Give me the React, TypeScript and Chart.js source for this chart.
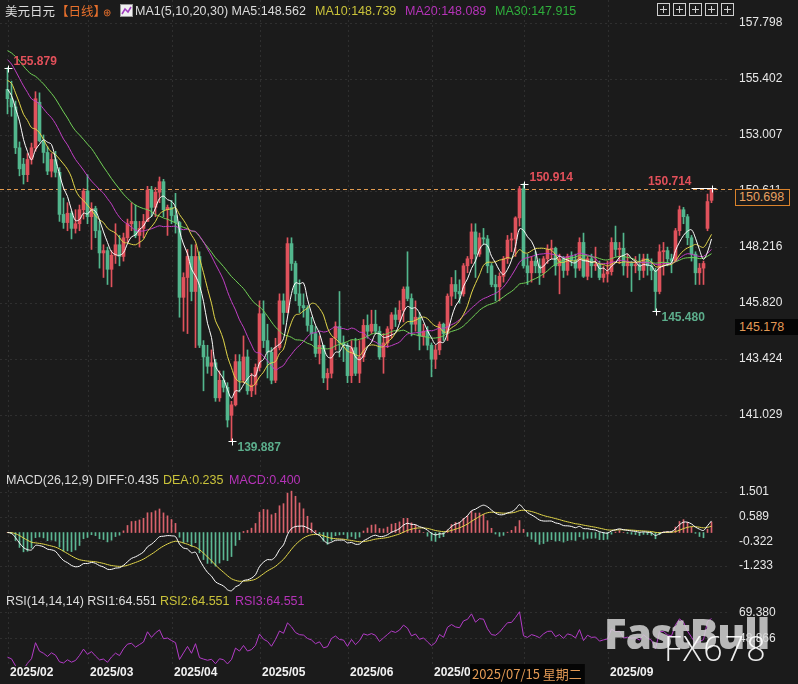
import React, { useEffect, useRef } from 'react';
import { Chart, registerables } from 'chart.js';
Chart.register(...registerables);

// ---------------- data ----------------
const openP = [
  154.95,154.55,154.20,152.45,151.75,151.30,151.95,152.45,154.40,152.75,
  152.25,151.45,151.95,151.40,149.60,149.25,149.65,149.00,149.20,149.80,
  150.60,149.50,149.85,148.90,147.95,148.05,147.25,147.85,148.30,147.80,
  148.60,149.20,149.30,148.70,149.00,149.30,150.65,149.90,150.55,151.00,
  149.80,149.90,149.55,149.25,146.05,146.90,147.80,146.30,147.80,144.00,
  143.50,143.10,143.25,141.75,142.50,142.20,141.00,141.45,143.30,142.50,
  143.50,142.05,142.30,143.05,145.35,144.20,143.70,142.50,143.90,145.90,
  145.40,148.35,147.50,146.20,145.70,145.60,144.85,144.50,143.65,144.00,
  142.60,142.80,144.30,144.80,144.10,144.00,142.70,143.90,142.80,143.50,
  144.85,144.60,144.90,144.60,143.50,144.10,144.70,145.30,145.10,145.50,
  146.50,146.00,144.90,145.20,144.40,144.60,144.00,143.40,143.80,144.90,
  144.50,146.10,146.60,146.30,146.20,147.40,147.70,148.85,147.90,148.60,
  148.55,147.40,146.60,146.50,146.95,147.70,148.50,148.55,149.45,150.70,
  147.40,147.10,147.60,147.40,147.10,147.70,148.10,148.15,147.40,147.70,
  147.20,147.80,147.65,147.30,148.40,146.95,147.70,147.40,147.45,146.90,
  147.05,147.15,148.40,148.10,148.15,147.40,147.50,147.40,147.45,147.20,
  147.70,147.40,147.20,146.30,148.00,148.05,147.70,147.60,148.90,149.80,
  149.50,148.60,147.90,147.10,147.30,149.00,150.20,
];
const highP = [
  155.879,155.30,154.45,152.70,152.00,152.20,152.65,154.85,154.80,153.00,
  152.50,152.20,152.30,151.60,150.30,150.10,149.75,149.80,150.00,150.70,
  151.30,150.10,149.95,149.30,148.30,148.20,148.05,149.20,148.70,148.80,
  149.40,150.10,150.00,149.30,149.60,150.80,150.80,150.75,151.20,151.10,
  150.00,150.20,150.50,149.30,147.10,148.10,148.30,148.30,148.00,144.20,
  144.00,143.80,143.40,142.90,142.90,142.40,141.60,143.60,143.60,144.40,
  143.80,142.80,143.20,145.90,145.90,144.90,143.90,144.30,146.20,146.20,
  148.60,148.60,147.60,146.80,146.20,145.70,145.20,144.80,144.40,144.00,
  143.00,144.30,145.00,146.30,144.40,144.10,144.20,144.30,144.20,145.10,
  145.30,145.50,145.50,144.80,144.50,144.80,145.40,145.60,145.90,146.50,
  148.00,146.20,145.90,145.40,144.90,144.80,144.10,144.00,145.00,144.95,
  146.20,146.90,147.20,146.80,147.50,147.80,149.20,149.20,148.80,149.00,
  148.70,147.50,147.00,147.10,147.80,148.70,148.80,149.50,150.80,150.914,
  147.90,147.80,148.00,147.70,147.80,148.30,148.50,148.20,147.90,147.80,
  147.90,148.00,147.90,148.60,148.80,147.80,147.90,148.20,147.60,147.40,
  147.60,148.60,149.10,148.40,148.80,147.90,147.60,147.80,147.90,147.90,
  147.90,147.70,147.30,148.30,148.40,148.20,147.90,149.00,149.96,149.90,
  149.60,148.70,148.00,147.50,147.60,150.47,150.714,
];
const lowP = [
  153.90,153.80,152.20,151.25,150.90,151.00,151.75,152.30,152.70,151.80,
  151.30,151.20,151.20,149.30,149.00,148.90,148.55,148.80,148.90,149.40,
  149.20,148.10,148.60,147.30,146.90,146.60,146.50,147.50,147.40,147.60,
  148.40,148.90,148.60,148.20,148.60,149.30,149.50,149.50,150.10,149.50,
  148.70,149.20,148.80,145.20,144.60,144.50,145.90,143.90,143.90,142.05,
  142.80,142.70,141.60,141.60,142.00,140.50,139.887,141.40,142.00,142.40,
  141.90,141.80,141.90,142.90,143.90,142.60,142.35,142.40,143.80,144.90,
  145.40,147.20,145.90,145.40,145.20,144.60,144.20,143.50,143.20,142.40,
  142.10,142.60,143.80,143.50,143.30,142.40,142.40,142.70,142.40,143.30,
  144.30,144.50,144.50,143.40,142.80,143.90,144.30,144.80,145.00,145.00,
  145.90,144.40,144.60,143.80,144.00,143.80,142.65,143.00,143.60,144.20,
  144.20,145.70,146.00,145.80,146.10,147.10,147.50,146.90,147.80,148.30,
  147.10,146.50,145.90,145.90,146.70,147.50,148.00,147.80,149.10,147.30,
  146.60,146.70,147.10,146.60,146.90,147.50,147.70,147.00,146.20,146.90,
  147.00,147.40,146.90,147.20,146.90,146.80,146.90,147.20,146.80,146.70,
  146.70,147.00,147.80,147.50,147.00,146.90,146.30,147.10,146.80,146.90,
  147.00,146.80,145.48,146.20,147.00,147.40,147.10,147.60,148.70,149.20,
  148.30,147.60,146.60,146.60,146.60,148.90,150.10,
];
const closeP = [
  154.55,154.20,152.45,151.55,151.30,151.95,152.45,154.55,152.75,152.25,
  151.45,151.95,151.40,149.60,149.25,149.65,149.00,149.20,149.80,150.60,
  149.50,149.85,148.90,147.95,148.05,147.25,147.85,148.30,147.80,148.60,
  149.20,149.30,148.70,149.00,149.30,150.65,149.90,150.55,151.00,149.80,
  149.90,149.55,149.25,146.05,146.90,147.80,146.30,147.80,144.00,143.50,
  143.10,143.25,141.75,142.50,142.20,140.80,141.45,143.30,142.50,143.50,
  142.05,142.30,143.05,145.35,144.20,143.70,142.50,143.90,145.90,145.40,
  148.35,147.50,146.20,145.70,145.60,144.85,144.50,143.65,144.00,142.60,
  142.80,144.30,144.80,144.10,144.00,142.70,143.90,142.80,143.50,144.85,
  144.60,144.90,144.60,143.50,144.10,144.70,145.30,145.10,145.50,146.40,
  146.00,144.90,145.20,144.40,144.60,144.00,143.40,143.80,144.90,144.50,
  146.10,146.60,146.30,146.20,147.40,147.70,148.85,147.90,148.60,148.55,
  147.40,146.60,146.50,146.95,147.70,148.50,148.55,149.45,150.70,147.40,
  147.10,147.60,147.40,147.10,147.70,148.10,148.15,147.40,147.70,147.20,
  147.80,147.65,147.30,148.40,146.95,147.70,147.40,147.45,146.90,147.05,
  147.15,148.40,148.10,148.15,147.40,147.50,147.40,147.45,147.20,147.70,
  147.40,147.20,146.30,148.00,148.05,147.70,147.60,148.90,149.80,149.50,
  148.60,147.90,147.10,147.30,147.50,150.15,150.698,
];
// closes before the visible window (moving-average / RSI warm-up)
const prevCloses = [
  157.40,156.40,157.10,157.20,157.10,157.90,157.90,156.90,157.20,157.50,
  157.30,157.60,158.00,158.30,158.00,157.70,157.50,158.00,156.50,155.20,
  156.30,155.60,155.50,156.50,156.00,156.00,154.60,155.50,155.20,154.30,155.20,
];
const monthLabels = ['2025/02','2025/03','2025/04','2025/05','2025/06','2025/07','2025/08','2025/09'];
const monthStart = [0, 20, 41, 63, 85, 106, 129, 150];
const priceTicks = [157.798,155.402,153.007,150.611,148.216,145.820,143.424,141.029];
const macdTicks = [1.501,0.589,-0.322,-1.233];
const rsiTicks = [69.380,48.866];
const markIdx = [0, 56, 129, 162, 176];
const markIsHigh = [true, false, true, false, true];
const crossIdx = 116;
const crossLabel = '2025/07/15 星期二';
const crossPrice = '145.178';

// ---------------- style ----------------
const BG = '#1b1b1b';
const UP = '#e0525c';
const DOWN = '#52b68d';
const C_MA5 = '#ffffff';
const C_MA10 = '#e3d74a';
const C_MA20 = '#c23fc6';
const C_MA30 = '#72d257';
const T_YEL = '#c9c23a';
const T_MAG = '#b533b8';
const T_GRN = '#2fae3c';
const X_MIN = -1.875;
const X_MAX = 180.625;
const FONT = 'Arial, "Liberation Sans", sans-serif';

// ---------------- indicators ----------------
const allCloses = [...prevCloses, ...closeP];
function movAvg(n: number) {
  return closeP.map((_, i) => {
    const j = prevCloses.length + i;
    let s = 0;
    for (let k = j - n + 1; k <= j; k++) s += allCloses[k];
    return s / n;
  });
}
function ema(src: number[], n: number) {
  const a = 2 / (n + 1);
  let e = src[0];
  return src.map((v, i) => (e = i === 0 ? v : a * v + (1 - a) * e));
}
function rsi(n: number) {
  let up = 0, dn = 0;
  const out: number[] = [];
  for (let i = 1; i < allCloses.length; i++) {
    const d = allCloses[i] - allCloses[i - 1];
    const u = Math.max(d, 0), a = Math.abs(d);
    if (i === 1) { up = u; dn = a; } else { up = (u + (n - 1) * up) / n; dn = (a + (n - 1) * dn) / n; }
    out.push(dn === 0 ? 50 : (up / dn) * 100);
  }
  return out.slice(out.length - closeP.length);
}
const ema12 = ema(closeP, 12);
const ema26 = ema(closeP, 26);
const diff = ema12.map((v, i) => v - ema26[i]);
const dea = ema(diff, 9);
const hist = diff.map((v, i) => 2 * (v - dea[i]));
const rsiVals = rsi(14);

const pts = (arr: number[]) => arr.map((y, x) => ({ x, y }));

function yAxis(min: number, max: number, ticks: number[]) {
  return {
    position: 'right', min, max, stacked: false,
    afterFit: (s: any) => { s.width = 68; s.paddingTop = 0; s.paddingBottom = 0; },
    afterBuildTicks: (s: any) => { s.ticks = ticks.map((v) => ({ value: v })); },
    ticks: { color: '#e8e8e8', font: { size: 12, family: FONT }, padding: 9, autoSkip: false,
      callback: (v: any) => Number(v).toFixed(3) },
    grid: { display: false, drawTicks: false },
    border: { display: false },
  };
}
const xAxis = { type: 'linear', min: X_MIN, max: X_MAX, display: false, offset: false, grid: { display: false } };

function drawGrid(ctx: any, a: any, x: any, y: any, ticks: number[]) {
  ctx.save();
  ctx.strokeStyle = 'rgba(255,255,255,0.09)';
  ctx.lineWidth = 1;
  ctx.setLineDash([2, 3]);
  ticks.forEach((t) => {
    const py = Math.round(y.getPixelForValue(t)) + 0.5;
    ctx.beginPath(); ctx.moveTo(a.left, py); ctx.lineTo(a.right, py); ctx.stroke();
  });
  monthStart.forEach((i) => {
    const px = Math.round(x.getPixelForValue(i)) + 0.5;
    ctx.beginPath(); ctx.moveTo(px, a.top); ctx.lineTo(px, a.bottom); ctx.stroke();
  });
  ctx.restore();
}

const mainPlugin = {
  id: 'mainDecor',
  beforeDatasetsDraw(chart: any) {
    const { ctx, chartArea: a, scales: { x, y } } = chart;
    drawGrid(ctx, a, x, y, priceTicks);
    ctx.save();
    const py = Math.round(y.getPixelForValue(closeP[closeP.length - 1])) + 0.5;
    ctx.strokeStyle = '#e09a50';
    ctx.lineWidth = 1;
    ctx.setLineDash([4, 3]);
    ctx.beginPath(); ctx.moveTo(a.left, py); ctx.lineTo(a.right + 6, py); ctx.stroke();
    ctx.restore();
  },
  afterDatasetsDraw(chart: any) {
    const { ctx, chartArea: a, scales: { x, y } } = chart;
    ctx.save();
    ctx.font = `bold 12px ${FONT}`;
    ctx.textBaseline = 'middle';
    markIdx.forEach((i, k) => {
      const hi = markIsHigh[k];
      const v = hi ? highP[i] : lowP[i];
      const px = Math.round(x.getPixelForValue(i)) + 0.5;
      const py = Math.round(y.getPixelForValue(v)) + 0.5;
      ctx.strokeStyle = '#ffffff';
      ctx.lineWidth = 1;
      ctx.beginPath();
      ctx.moveTo(px - 4, py); ctx.lineTo(px + 4, py);
      ctx.moveTo(px, py - 3); ctx.lineTo(px, py + 4);
      ctx.stroke();
      ctx.fillStyle = hi ? '#e2505a' : '#5cae8c';
      const txt = v.toFixed(3);
      if (px > a.right - 60) {
        ctx.beginPath(); ctx.moveTo(px - 21, py); ctx.lineTo(px, py); ctx.stroke();
        ctx.textAlign = 'right';
        ctx.fillText(txt, px - 21, py - 7);
      } else {
        ctx.textAlign = 'left';
        ctx.fillText(txt, px + 5, hi ? py - 7 : py + 6);
      }
    });
    ctx.restore();
  },
};

const macdPlugin = {
  id: 'macdDecor',
  beforeDatasetsDraw(chart: any) {
    const { ctx, chartArea: a, scales: { x, y } } = chart;
    drawGrid(ctx, a, x, y, macdTicks);
  },
};

const rsiPlugin = {
  id: 'rsiDecor',
  beforeDatasetsDraw(chart: any) {
    const { ctx, chartArea: a, scales: { x, y } } = chart;
    drawGrid(ctx, a, x, y, rsiTicks);
  },
  afterDraw(chart: any) {
    const { ctx, scales: { x } } = chart;
    ctx.save();
    ctx.font = `bold 12px ${FONT}`;
    ctx.fillStyle = '#f2f2f2';
    ctx.textAlign = 'left';
    ctx.textBaseline = 'middle';
    monthStart.forEach((i, k) => {
      ctx.fillText(monthLabels[k], Math.round(x.getPixelForValue(i)) + 2, 81);
    });
    const bx = Math.round(x.getPixelForValue(crossIdx)) - 2;
    ctx.font = `13px "Noto Sans CJK SC", ${FONT}`;
    const w = ctx.measureText(crossLabel).width + 5;
    ctx.fillStyle = '#050505';
    ctx.fillRect(bx, 72, w, 20);
    ctx.fillStyle = '#e39a55';
    ctx.fillText(crossLabel, bx + 2, 82);
    ctx.restore();
  },
};

function mainConfig(): any {
  const idx = closeP.map((_, i) => i);
  const colors = idx.map((i) => (closeP[i] >= openP[i] ? UP : DOWN));
  const line = (data: number[], color: string, order: number) => ({
    type: 'line', data: pts(data), borderColor: color, borderWidth: 1, pointRadius: 0, tension: 0.35, order,
  });
  return {
    type: 'bar',
    data: {
      datasets: [
        line(movAvg(5), C_MA5, 0),
        line(movAvg(10), C_MA10, 1),
        line(movAvg(20), C_MA20, 2),
        line(movAvg(30), C_MA30, 3),
        { type: 'bar', data: idx.map((i) => ({ x: i, y: [openP[i], closeP[i]] })), backgroundColor: colors, barThickness: 3, stack: 'c', minBarLength: 1, order: 4 },
        { type: 'bar', data: idx.map((i) => ({ x: i, y: [lowP[i], highP[i]] })), backgroundColor: colors, barThickness: 1, stack: 'c', minBarLength: 1, order: 5 },
      ],
    },
    options: {
      animation: false, responsive: false, maintainAspectRatio: false,
      layout: { padding: 0 },
      plugins: { legend: { display: false }, tooltip: { enabled: false } },
      scales: { x: xAxis, y: yAxis(138.662, 158.774, priceTicks) },
    },
    plugins: [mainPlugin],
  };
}

function macdConfig(): any {
  return {
    type: 'bar',
    data: {
      datasets: [
        { type: 'line', data: pts(diff), borderColor: '#ffffff', borderWidth: 1, pointRadius: 0, tension: 0.3, order: 0 },
        { type: 'line', data: pts(dea), borderColor: '#e3d74a', borderWidth: 1, pointRadius: 0, tension: 0.3, order: 1 },
        { type: 'bar', data: pts(hist), backgroundColor: hist.map((v) => (v >= 0 ? '#d9626c' : '#5cb894')), barThickness: 1, order: 2 },
      ],
    },
    options: {
      animation: false, responsive: false, maintainAspectRatio: false,
      layout: { padding: 0 },
      plugins: { legend: { display: false }, tooltip: { enabled: false } },
      scales: { x: xAxis, y: yAxis(-2.186, 2.299, macdTicks) },
    },
    plugins: [macdPlugin],
  };
}

function rsiConfig(): any {
  // RSI1, RSI2 and RSI3 share the same 14-period values; only the top (RSI3) line is visible.
  return {
    type: 'line',
    data: { datasets: [{ type: 'line', data: pts(rsiVals), borderColor: '#b43cc8', borderWidth: 1, pointRadius: 0, tension: 0 }] },
    options: {
      animation: false, responsive: false, maintainAspectRatio: false,
      layout: { padding: { top: 0, bottom: 18, left: 0, right: 0 } },
      plugins: { legend: { display: false }, tooltip: { enabled: false } },
      scales: { x: xAxis, y: yAxis(27.01, 85.40, rsiTicks) },
    },
    plugins: [rsiPlugin],
  };
}

const txt = (left: number, top: number, color: string, s: string, extra: any = {}) => (
  <span style={{ position: 'absolute', left, top, color, fontSize: 12.5, lineHeight: '16px', whiteSpace: 'nowrap', ...extra }}>{s}</span>
);

function Icon({ left }: { left: number }) {
  return (
    <div style={{ position: 'absolute', left, top: 3, width: 13, height: 13, border: '1px solid #cfcfcf', boxSizing: 'border-box' }}>
      <div style={{ position: 'absolute', left: 2, top: 5, width: 7, height: 1, background: '#cfcfcf' }} />
      <div style={{ position: 'absolute', left: 5, top: 2, width: 1, height: 7, background: '#cfcfcf' }} />
    </div>
  );
}

export default function App() {
  const mainRef = useRef<HTMLCanvasElement>(null);
  const macdRef = useRef<HTMLCanvasElement>(null);
  const rsiRef = useRef<HTMLCanvasElement>(null);

  useEffect(() => {
    document.body.style.margin = '0';
    document.body.style.background = BG;
    const charts = [
      new Chart(mainRef.current as any, mainConfig()),
      new Chart(macdRef.current as any, macdConfig()),
      new Chart(rsiRef.current as any, rsiConfig()),
    ];
    return () => charts.forEach((c) => c.destroy());
  }, []);

  return (
    <div style={{ position: 'relative', width: 798, height: 684, background: BG, overflow: 'hidden', fontFamily: FONT }}>
      <canvas ref={mainRef} width={798} height={470} style={{ position: 'absolute', left: 0, top: 0, width: 798, height: 470 }} />
      <canvas ref={macdRef} width={798} height={122} style={{ position: 'absolute', left: 0, top: 470, width: 798, height: 122 }} />
      <canvas ref={rsiRef} width={798} height={92} style={{ position: 'absolute', left: 0, top: 592, width: 798, height: 92 }} />

      {/* header */}
      {txt(5, 3, '#dcdcdc', '美元日元', { fontFamily: '"Noto Sans CJK SC", sans-serif', fontSize: 12.5 })}
      {txt(56, 3, '#e8702c', '【日线】', { fontFamily: '"Noto Sans CJK SC", sans-serif', fontSize: 12.5 })}
      {txt(103, 3, '#e8702c', '⊕', { fontSize: 10, top: 5 })}
      <svg style={{ position: 'absolute', left: 120, top: 4 }} width={13} height={13}>
        <rect x={0.5} y={0.5} width={12} height={12} fill="#f0f0f0" stroke="#9a9a9a" />
        <polyline points="2,10 5,5 8,8 11,3" fill="none" stroke="#a03cc0" strokeWidth={1.5} />
      </svg>
      {txt(135, 3, '#dcdcdc', 'MA1(5,10,20,30) MA5:148.562')}
      {txt(315, 3, T_YEL, 'MA10:148.739')}
      {txt(405, 3, T_MAG, 'MA20:148.089')}
      {txt(495, 3, T_GRN, 'MA30:147.915')}
      {[657, 673, 689, 705, 721].map((l) => <Icon key={l} left={l} />)}

      {/* MACD header */}
      {txt(6, 472, '#dcdcdc', 'MACD(26,12,9) DIFF:0.435')}
      {txt(163, 472, T_YEL, 'DEA:0.235')}
      {txt(229, 472, T_MAG, 'MACD:0.400')}

      {/* RSI header */}
      {txt(6, 593, '#dcdcdc', 'RSI(14,14,14) RSI1:64.551')}
      {txt(160, 593, T_YEL, 'RSI2:64.551')}
      {txt(235, 593, T_MAG, 'RSI3:64.551')}

      {/* price boxes */}
      <div style={{ position: 'absolute', left: 735, top: 189, width: 55, height: 17, border: '1px solid #d9822b', background: BG, boxSizing: 'border-box',
        color: '#e8a060', fontSize: 12.5, lineHeight: '15px', paddingLeft: 3 }}>{closeP[closeP.length - 1].toFixed(3)}</div>
      <div style={{ position: 'absolute', left: 735, top: 319, width: 63, height: 16, background: '#050505',
        color: '#e39a55', fontSize: 12.5, lineHeight: '16px', paddingLeft: 4 }}>{crossPrice}</div>

      {/* watermark */}
      <div style={{ position: 'absolute', left: 604, top: 608, fontSize: 42, fontWeight: 800, color: 'rgba(210,210,210,0.85)', fontFamily: '"Open Sans", Arial, sans-serif', letterSpacing: -1, lineHeight: '50px' }}>FastBull</div>
      <div style={{ position: 'absolute', left: 664, top: 628, fontSize: 34, fontWeight: 300, color: 'rgba(255,255,255,0.92)', fontFamily: '"Open Sans", Arial, sans-serif', letterSpacing: 2, lineHeight: '40px' }}>FX678</div>
    </div>
  );
}
